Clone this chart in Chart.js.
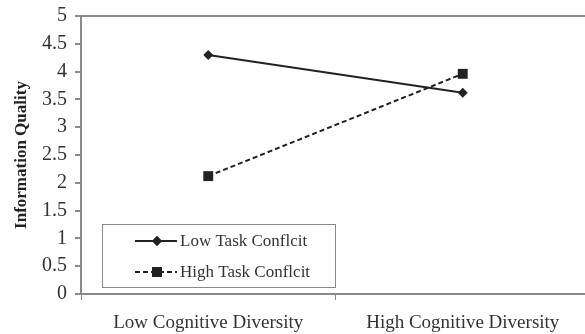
<!DOCTYPE html>
<html>
<head>
<meta charset="utf-8">
<script src="https://cdn.jsdelivr.net/npm/chart.js@4"></script>
<style>
  body { margin: 0; overflow: hidden; background: #fff; }
  #wrap { width: 597px; height: 334px; }
</style>
</head>
<body>
<div id="wrap"><canvas id="myChart" width="597" height="334"></canvas></div>
<script>
const categorias = ['Low Cognitive Diversity', 'High Cognitive Diversity'];
const lowConflict = [4.30, 3.62];
const highConflict = [2.12, 3.96];
const nombres = ['Low Task Conflcit', 'High Task Conflcit'];

const fuente = 'Liberation Serif, Times New Roman, serif';
const gris = '#8a8a8a';

// leyenda dibujada dentro del area del grafico, abajo a la izquierda
const leyendaCaja = {
  id: 'leyendaCaja',
  afterDraw(chart) {
    const ctx = chart.ctx;
    const x0 = 102, y0 = 224, w = 233, h = 63;
    ctx.save();
    ctx.fillStyle = '#fff';
    ctx.fillRect(x0, y0, w, h);
    ctx.strokeStyle = gris;
    ctx.lineWidth = 1;
    ctx.strokeRect(x0 + 0.5, y0 + 0.5, w, h);
    chart.data.datasets.forEach((ds, i) => {
      const cy = y0 + 17 + i * 31;
      ctx.strokeStyle = ds.borderColor;
      ctx.lineWidth = ds.borderWidth;
      ctx.setLineDash(ds.borderDash || []);
      ctx.beginPath();
      ctx.moveTo(135, cy);
      ctx.lineTo(177, cy);
      ctx.stroke();
      ctx.setLineDash([]);
      ctx.fillStyle = ds.pointBackgroundColor;
      Chart.helpers.drawPoint(ctx, {pointStyle: ds.pointStyle, radius: ds.pointRadius, borderWidth: 0}, 157, cy);
      ctx.fill();
      ctx.fillStyle = '#333';
      ctx.font = '17px ' + fuente;
      ctx.textBaseline = 'middle';
      ctx.fillText(ds.label, 180, cy + 1);
    });
    ctx.restore();
  }
};

const grafica = new Chart(document.getElementById('myChart'), {
  type: 'line',
  data: {
    labels: categorias,
    datasets: [{
      label: nombres[0],
      data: lowConflict,
      borderColor: '#222',
      borderWidth: 2,
      pointStyle: 'rectRot',
      pointRadius: 5,
      pointBackgroundColor: '#222',
      pointBorderColor: '#222',
      pointBorderWidth: 0
    }, {
      label: nombres[1],
      data: highConflict,
      borderColor: '#222',
      borderWidth: 2,
      borderDash: [5, 3],
      pointStyle: 'rect',
      pointRadius: 7,
      pointBackgroundColor: '#222',
      pointBorderColor: '#222',
      pointBorderWidth: 0
    }]
  },
  options: {
    responsive: false,
    animation: false,
    layout: { padding: { top: 16, right: 0, left: 0, bottom: 0 } },
    plugins: {
      legend: { display: false },
      tooltip: { enabled: false }
    },
    scales: {
      x: {
        offset: true,
        afterFit: (s) => { s.height = 40; },
        grid: { offset: true, drawOnChartArea: false, tickLength: 6, color: gris },
        border: { color: gris, width: 2 },
        ticks: { color: '#333', font: { family: fuente, size: 19 }, padding: 12, maxRotation: 0 }
      },
      y: {
        min: 0,
        max: 5,
        afterFit: (s) => { s.width = 81; s.paddingTop = 0; s.paddingBottom = 0; },
        ticks: {
          stepSize: 0.5,
          color: '#333',
          font: { family: fuente, size: 20 },
          padding: 8,
          callback: (v) => String(v)
        },
        grid: {
          tickLength: 6,
          tickColor: gris,
          color: (c) => c.tick && c.tick.value === 5 ? gris : 'transparent',
          lineWidth: 2
        },
        border: { color: gris, width: 2 },
        title: {
          display: true,
          text: 'Information Quality',
          color: '#222',
          font: { family: fuente, size: 17, weight: 'bold' },
          padding: { top: 11, bottom: 4 }
        }
      }
    }
  },
  plugins: [leyendaCaja]
});
</script>
</body>
</html>
